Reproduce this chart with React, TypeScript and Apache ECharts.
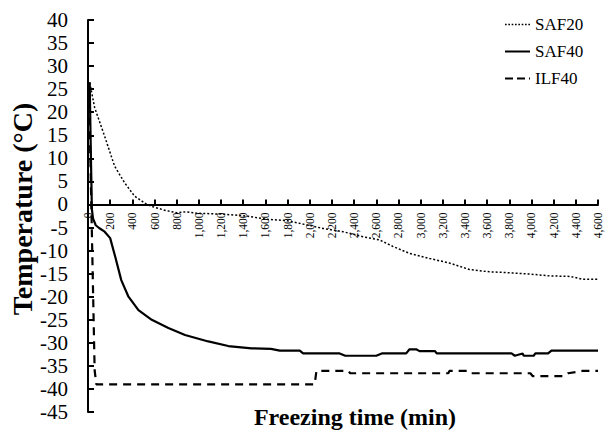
import React, { useEffect, useRef } from "react";
import * as echarts from "echarts";

const seriesNames = ["SAF20", "SAF40", "ILF40"];

const saf20Time = [0, 15, 60, 150, 240, 330, 420, 530, 600, 700, 800, 880, 980, 1100, 1220, 1430, 1610, 1790, 1970, 2120, 2300, 2480, 2630, 2750, 2900, 3080, 3260, 3440, 3620, 3800, 3990, 4170, 4350, 4460, 4600];
const saf20Temp = [24, 26.5, 21, 14.8, 8.3, 4.7, 1.8, 0, -0.6, -1.3, -1.8, -1.6, -1.9, -2.0, -2.1, -2.5, -3.2, -3.5, -4.4, -5.2, -5.9, -7.0, -7.7, -9.1, -10.6, -11.7, -12.7, -14.1, -14.6, -14.8, -15.1, -15.5, -15.6, -16.2, -16.2];

const saf40Time = [0, 15, 25, 35, 45, 70, 100, 150, 200, 245, 300, 365, 455, 575, 725, 875, 1085, 1265, 1475, 1650, 1730, 1910, 1940, 2270, 2320, 2600, 2650, 2870, 2900, 2960, 2990, 3130, 3145, 3820, 3850, 3920, 3930, 4020, 4035, 4150, 4180, 4600];
const saf40Temp = [24, 26.5, 12, -1, -3, -4.5, -5.1, -5.9, -7.3, -11.3, -16.4, -20, -22.9, -25, -26.8, -28.3, -29.7, -30.7, -31.2, -31.3, -31.7, -31.7, -32.3, -32.3, -32.8, -32.8, -32.3, -32.3, -31.4, -31.4, -31.8, -31.8, -32.3, -32.3, -32.8, -32.3, -32.8, -32.8, -32.3, -32.3, -31.7, -31.7];

const ilf40Time = [0, 8, 60, 75, 2045, 2060, 2350, 2365, 3250, 3260, 3440, 3460, 3990, 4010, 4290, 4330, 4460, 4600];
const ilf40Temp = [24, 26, -36, -39, -39, -36.1, -36.1, -36.6, -36.6, -36.1, -36.1, -36.6, -36.6, -37.2, -37.2, -36.6, -36.1, -36.1];

const yTitle = "Temperature (°C)";
const xTitle = "Freezing time (min)";

const FONT = "'Liberation Serif', 'Times New Roman', serif";

const Y_MIN = -45;
const Y_MAX = 40;
const GRID_TOP = 20;
const GRID_BOTTOM = 23;
const CHART_H = 435;

function pairs(t: number[], v: number[]) {
  return t.map((x, i) => [x, v[i]]);
}

// legend icons (line styles)
const solidIcon = "path://M0,0h25v2h-25z";
const dashIcon = "path://M0,0h8v2h-8z M12,0h8v2h-8z M24,0h1v2h-1z";
function dotIcon() {
  let d = "path://";
  for (let i = 0; i < 8; i++) {
    const x = i * 3.2;
    d += `M${x.toFixed(1)},0h1.6v1.6h-1.6z `;
  }
  return d.trim();
}

export default function App() {
  const ref = useRef<HTMLDivElement>(null);
  useEffect(() => {
    if (!ref.current) return;
    const chart = echarts.init(ref.current, null, { renderer: "svg" });
    const lineBase = { type: "line" as const, symbol: "none", showSymbol: false, smooth: false };
    const plotH = CHART_H - GRID_TOP - GRID_BOTTOM;
    const zeroY = GRID_TOP + (Y_MAX / (Y_MAX - Y_MIN)) * plotH;
    const xOffset = -(CHART_H - GRID_BOTTOM - zeroY);
    chart.setOption({
      animation: false,
      backgroundColor: "#ffffff",
      textStyle: { fontFamily: FONT, color: "#000" },
      grid: { left: 88, right: 9, top: GRID_TOP, bottom: GRID_BOTTOM, containLabel: false, outerBoundsMode: "none" },
      legend: {
        orient: "vertical",
        left: 500,
        top: 11,
        itemWidth: 25,
        itemHeight: 2,
        itemGap: 10,
        textStyle: { fontFamily: FONT, fontSize: 17, lineHeight: 17, color: "#000" },
        data: [
          { name: seriesNames[0], icon: dotIcon() },
          { name: seriesNames[1], icon: solidIcon },
          { name: seriesNames[2], icon: dashIcon },
        ],
      },
      xAxis: {
        type: "value",
        min: 0,
        max: 4600,
        interval: 200,
        position: "bottom",
        offset: xOffset,
        axisLine: { onZero: false, lineStyle: { color: "#000", width: 2 } },
        axisTick: { inside: true, length: 5, lineStyle: { color: "#000", width: 2 } },
        splitLine: { show: false },
        axisLabel: {
          rotate: 90,
          margin: 8,
          fontFamily: FONT,
          fontSize: 11.5,
          color: "#000",
          formatter: (v: number) => v.toLocaleString("en-US"),
        },
      },
      yAxis: {
        type: "value",
        min: Y_MIN,
        max: Y_MAX,
        interval: 5,
        axisLine: { show: true, lineStyle: { color: "#000", width: 2 } },
        axisTick: { show: true, inside: true, length: 6, lineStyle: { color: "#000", width: 2 } },
        splitLine: { show: false },
        axisLabel: { margin: 20, fontFamily: FONT, fontSize: 21, lineHeight: 21, color: "#000" },
      },
      graphic: [
        {
          type: "text",
          x: 22,
          y: 209,
          rotation: Math.PI / 2,
          style: {
            text: yTitle,
            font: `bold 28px ${FONT}`,
            fill: "#000",
            textAlign: "center",
            textVerticalAlign: "middle",
          },
        },
        {
          type: "text",
          x: 355,
          y: 417,
          style: {
            text: xTitle,
            font: `bold 24px ${FONT}`,
            fill: "#000",
            textAlign: "center",
            textVerticalAlign: "middle",
          },
        },
      ],
      series: [
        {
          ...lineBase,
          name: seriesNames[0],
          data: pairs(saf20Time, saf20Temp),
          lineStyle: { color: "#000", width: 1.5, type: [2, 2] },
          itemStyle: { color: "#000" },
        },
        {
          ...lineBase,
          name: seriesNames[1],
          data: pairs(saf40Time, saf40Temp),
          lineStyle: { color: "#000", width: 2.2, type: "solid" },
          itemStyle: { color: "#000" },
        },
        {
          ...lineBase,
          name: seriesNames[2],
          data: pairs(ilf40Time, ilf40Temp),
          lineStyle: { color: "#000", width: 2.2, type: [8, 6] },
          itemStyle: { color: "#000" },
        },
      ],
    });
    return () => chart.dispose();
  }, []);
  return <div ref={ref} style={{ width: 607, height: 435, position: "absolute", left: 0, top: 0 }} />;
}
